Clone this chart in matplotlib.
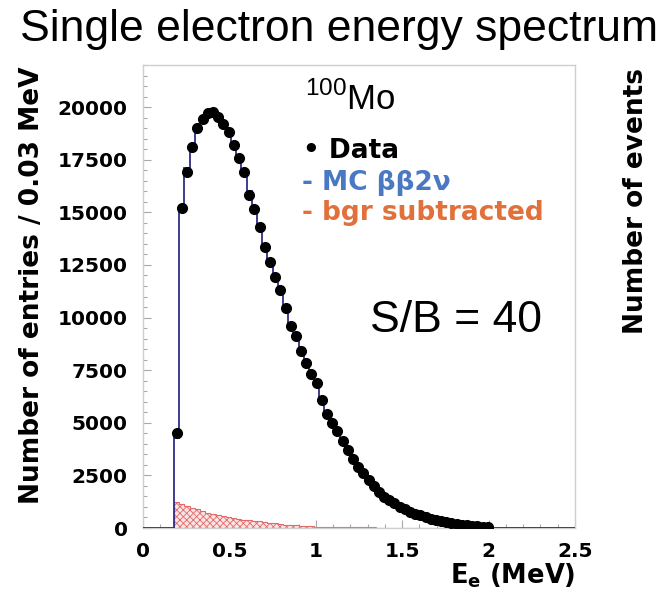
import matplotlib
matplotlib.use("Agg")
import matplotlib.pyplot as plt
import numpy as np
from matplotlib.ticker import MultipleLocator

plt.rcParams['font.family'] = ['Liberation Sans', 'DejaVu Sans']
plt.rcParams['mathtext.fontset'] = 'custom'
plt.rcParams['mathtext.rm'] = 'Liberation Sans'
plt.rcParams['mathtext.bf'] = 'DejaVu Sans:bold'
plt.rcParams['hatch.linewidth'] = 0.6

W, H = 668, 606

# single electron spectrum, 0.03 MeV bins starting at 0.18 MeV
bin_width = 0.03
first_edge = 0.18
x_max = 2.5

data_counts = [4500, 15200, 16900, 18100, 19000, 19450, 19700, 19750, 19550, 19200,
               18800, 18200, 17600, 16900, 15800, 15150, 14300, 13350, 12650, 11950,
               11300, 10450, 9600, 9100, 8420, 7850, 7300, 6870, 6070, 5400,
               4980, 4600, 4120, 3700, 3300, 2920, 2620, 2300, 1980, 1700,
               1470, 1320, 1170, 1020, 890, 770, 680, 600, 520, 450,
               390, 330, 280, 235, 195, 160, 130, 100, 75, 55, 35]

mc_counts = [4300, 15000, 17100, 18200, 18900, 19500, 19650, 19700, 19500, 19150,
             18750, 18250, 17600, 16850, 16000, 15150, 14350, 13500, 12700, 11950,
             11200, 10450, 9700, 9050, 8450, 7850, 7250, 6750, 6150, 5500,
             5000, 4550, 4100, 3700, 3300, 2950, 2600, 2280, 1990, 1720,
             1490, 1300, 1140, 1000, 880, 770, 670, 590, 510, 440,
             380, 320, 270, 225, 185, 150, 120, 90, 65, 45, 25]

bgr_counts = [1250, 1150, 1050, 960, 880, 800, 730, 670, 610, 560,
              520, 480, 440, 400, 370, 340, 310, 280, 250, 220,
              190, 160, 140, 120, 100, 85, 75, 65, 60, 55,
              50, 46, 42, 38, 35, 32, 29, 26, 24, 22,
              20, 18, 16, 14, 13, 12, 11, 10, 9, 8,
              7, 6, 5, 5, 4, 4, 3, 3, 2, 2, 1]

y_ticks = [0, 2500, 5000, 7500, 10000, 12500, 15000, 17500, 20000]
x_ticks = [0, 0.5, 1, 1.5, 2, 2.5]
x_ticklabels = ['0', '0.5', '1', '1.5', '2', '2.5']


def px(x, y):
    return x / W, 1 - y / H


edges = first_edge + bin_width * np.arange(len(mc_counts) + 1)
centers = first_edge + bin_width * (np.arange(len(data_counts)) + 0.5)

fig = plt.figure(figsize=(W / 100, H / 100), dpi=100)
ax = fig.add_axes([143 / W, 78 / H, 432 / W, 463 / H])

# background histogram, hatched
ax.stairs(bgr_counts, edges, fill=True, facecolor='#fde4e4', edgecolor='#e06a6a',
          hatch='xxxxx', linewidth=0.8, zorder=2)
ax.hlines(0, edges[-1], x_max, color='#e06a6a', lw=1, zorder=2)

# MC histogram padded with empty bins on both sides
mc_edges = np.concatenate([[0], edges, [x_max]])
mc_vals = np.concatenate([[0], mc_counts, [0]])
ax.stairs(mc_vals, mc_edges, color='#2e2e8a', linewidth=1.3, baseline=None, zorder=3)

ax.plot(centers, data_counts, 'o', color='black', ms=7, zorder=4)

ax.set_xlim(0, x_max)
ax.set_ylim(0, 22000)
ax.set_yticks(y_ticks)
ax.set_xticks(x_ticks)
ax.set_xticklabels(x_ticklabels)
ax.yaxis.set_minor_locator(MultipleLocator(500))
ax.xaxis.set_minor_locator(MultipleLocator(0.1))
ax.tick_params(which='both', direction='in', color='#a8a8a8', width=0.8)
ax.tick_params(which='major', length=6)
ax.tick_params(which='minor', length=3)
ax.tick_params(axis='y', pad=11)
ax.tick_params(axis='x', pad=10)
for lab in ax.get_xticklabels() + ax.get_yticklabels():
    lab.set_fontfamily('DejaVu Sans')
    lab.set_fontweight('bold')
    lab.set_fontsize(14.5)
for s in ax.spines.values():
    s.set_color('#cfcfcf')
    s.set_linewidth(1)

fig.text(*px(20, 41), 'Single electron energy spectrum', fontsize=32,
         ha='left', va='baseline')

fig.text(*px(32, 285), 'Number of entries / 0.03 MeV', family='DejaVu Sans',
         fontweight='bold', fontsize=19, rotation=90, ha='center', va='center')
fig.text(*px(575, 583), r'$\mathbf{E_e\ (MeV)}$', fontsize=18.5, ha='right', va='baseline')

fig.text(*px(305, 110), r'$^{100}$Mo', fontsize=25, ha='left', va='baseline')
fig.text(*px(303, 158), '• Data', family='DejaVu Sans', fontweight='bold',
         fontsize=19, color='black', ha='left', va='baseline')
fig.text(*px(302, 190), '- MC ββ2ν', family='DejaVu Sans', fontweight='bold',
         fontsize=19, color='#4a78c2', ha='left', va='baseline')
fig.text(*px(302, 220), '- bgr subtracted', family='DejaVu Sans', fontweight='bold',
         fontsize=19, color='#e2703a', ha='left', va='baseline')
fig.text(*px(370, 332), 'S/B = 40', fontsize=32, ha='left', va='baseline')

fig.text(*px(636, 201), 'Number of events', family='DejaVu Sans', fontweight='bold',
         fontsize=19, rotation=90, ha='center', va='center')

fig.savefig('out.png', dpi=100)
